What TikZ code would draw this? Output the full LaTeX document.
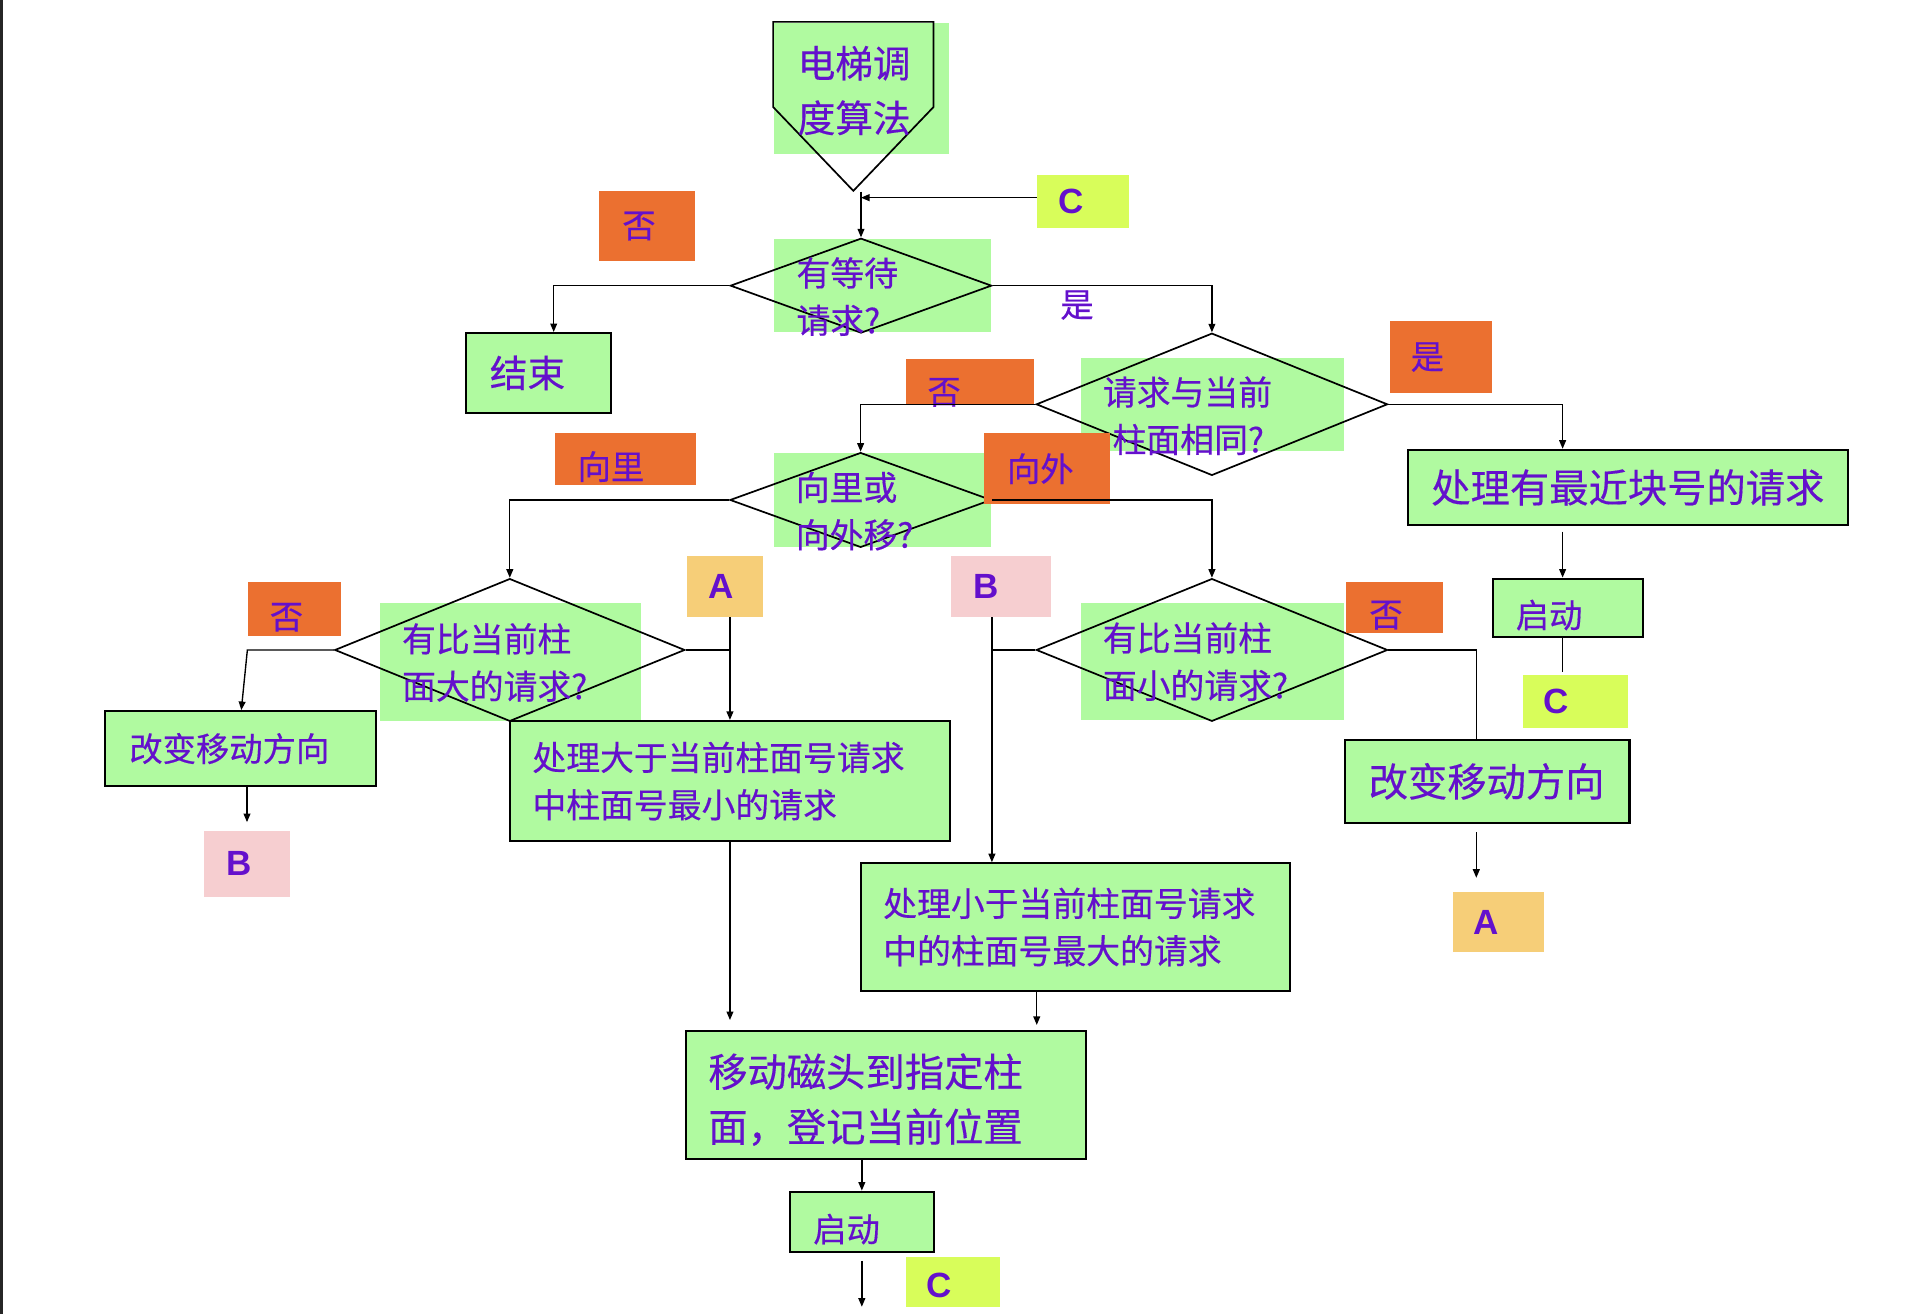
\documentclass[tikz,border=0pt]{standalone}
\usepackage{fontspec}
\setmainfont{Noto Sans CJK SC}[FakeBold=0.4]
\newfontfamily\latinfont{Liberation Sans}
\usepackage{tikz}
\usetikzlibrary{shapes.geometric,arrows.meta,calc}
\definecolor{boxgreen}{RGB}{176,250,160}
\definecolor{txtpurple}{RGB}{100,16,204}
\definecolor{tagorange}{RGB}{235,112,48}
\definecolor{tagyellow}{RGB}{216,253,90}
\definecolor{tagpink}{RGB}{246,206,208}
\definecolor{taggold}{RGB}{246,206,120}
\newcommand{\fsbig}{\fontsize{23pt}{32.2pt}\selectfont}
\newcommand{\fsstart}{\fontsize{22pt}{32pt}\selectfont}
\newcommand{\fsmid}{\fontsize{19.8pt}{27.7pt}\selectfont}
\newcommand{\fstag}{\fontsize{19.5pt}{24pt}\selectfont}
\newcommand{\fsletter}{\latinfont\bfseries\fontsize{20.5pt}{24pt}\selectfont}
\newcommand{\lowered}[2]{\raisebox{-#1}[\height][\depth]{#2}}

\begin{document}
\begin{tikzpicture}[x=0.25mm,y=-0.25mm,text=txtpurple,
  bg/.style={fill=boxgreen,inner sep=0pt},
  flowbox/.style={draw,line width=1.2pt,fill=boxgreen,inner ysep=0pt,align=left},
  tagbox/.style={inner ysep=0pt,align=left,font=\fstag},
  letterbox/.style={inner ysep=0pt,align=left,font=\fsletter},
  decision/.style={diamond,draw,line width=1pt,inner sep=0pt},
  qtext/.style={anchor=west,align=left,inner sep=0pt,font=\fsmid},
  conn/.style={line width=0.8pt,-{Triangle[length=5pt,width=4pt]}},
  plain/.style={line width=0.8pt}]
  \useasboundingbox (0,0) rectangle (1568,1081);
  \draw[line width=1.6pt,black!85] (1,0) -- (1,1081);

  % green text boxes
  \node[bg,minimum width=36mm,minimum height=27mm] (g0) at (709,73) {};
  \node[bg,minimum width=44.5mm,minimum height=19mm] (g1) at (726,235) {};
  \node[bg,minimum width=54mm,minimum height=19.125mm] (g2) at (997.6,332.45) {};
  \node[bg,minimum width=44.65mm,minimum height=19.25mm] (g3) at (726,411.2) {};
  \node[bg,minimum width=53.7mm,minimum height=24.1mm] (g4) at (419.95,544.55) {};
  \node[bg,minimum width=54mm,minimum height=24mm] (g5) at (997.6,544.3) {};

  % start
  \draw[line width=1pt] (636,18) -- (768,18) -- (768,88) -- (702,157) -- (636,88) -- cycle;

  % decisions
  \node[decision,minimum width=53.75mm,minimum height=19.5mm] (d1) at (708.3,235) {};
  \node[decision,minimum width=72.25mm,minimum height=29.25mm] (d2) at (997,332.6) {};
  \node[decision,minimum width=53.75mm,minimum height=19.5mm] (d3) at (708,411.3) {};
  \node[decision,minimum width=72mm,minimum height=29.35mm] (d4) at (419.4,534.7) {};
  \node[decision,minimum width=72.25mm,minimum height=29.35mm] (d5) at (997,534.7) {};

  % answer tags
  \node[tagbox,fill=tagorange,minimum width=19.75mm,minimum height=14.5mm,text width=10.25mm,inner xsep=4.75mm] (no1) at (532.5,186) {否};
  \node[tagbox,fill=tagorange,minimum width=21mm,minimum height=14.9mm,text width=12.5mm,inner xsep=4.25mm] (yes2) at (1185.5,293.8) {是};
  \node[tagbox,fill=tagorange,minimum width=26.5mm,minimum height=9.4mm,text width=17.5mm,inner xsep=4.5mm] (no2) at (798,313.8) {\lowered{2.25mm}{否}};
  \node[tagbox,fill=tagorange,minimum width=28.9mm,minimum height=10.625mm,text width=19.6mm,inner xsep=4.65mm] (in1) at (514.4,377.45) {\lowered{1.6mm}{向里}};
  \node[tagbox,fill=tagorange,minimum width=25.8mm,minimum height=14.675mm,text width=16.5mm,inner xsep=4.65mm] (out1) at (861.4,385.55) {向外};
  \node[tagbox,fill=tagorange,minimum width=19.075mm,minimum height=11.1mm,text width=10.075mm,inner xsep=4.5mm] (no3) at (242.15,501) {\lowered{1.7mm}{否}};
  \node[tagbox,fill=tagorange,minimum width=19.925mm,minimum height=10.425mm,text width=10.175mm,inner xsep=4.875mm] (no4) at (1146.85,499.65) {\lowered{1.6mm}{否}};

  % connector letters
  \node[letterbox,fill=tagyellow,minimum width=19mm,minimum height=10.875mm,text width=10mm,inner xsep=4.5mm] (c1) at (891,165.75) {C};
  \node[letterbox,fill=taggold,minimum width=15.7mm,minimum height=12.475mm,text width=6.9mm,inner xsep=4.4mm] (a1) at (596.6,482.35) {A};
  \node[letterbox,fill=tagpink,minimum width=20.75mm,minimum height=12.575mm,text width=11.5mm,inner xsep=4.625mm] (b1) at (823.5,482.15) {B};
  \node[letterbox,fill=tagyellow,minimum width=21.6mm,minimum height=10.9mm,text width=13.1mm,inner xsep=4.25mm] (c2) at (1295.85,577.15) {C};
  \node[letterbox,fill=tagpink,minimum width=17.7mm,minimum height=13.5mm,text width=8.35mm,inner xsep=4.675mm] (b2) at (203.2,710.6) {B};
  \node[letterbox,fill=taggold,minimum width=18.75mm,minimum height=12.35mm,text width=10.25mm,inner xsep=4.25mm] (a2) at (1232.5,758.7) {A};
  \node[letterbox,fill=tagyellow,minimum width=19.325mm,minimum height=10.175mm,text width=10.825mm,inner xsep=4.25mm] (c3) at (783.95,1054.65) {\lowered{0.8mm}{C}};

  % process boxes
  \node[flowbox,font=\fsstart,minimum width=30mm,minimum height=16.375mm,text width=20mm,inner xsep=5mm] (end) at (443,306.75) {结束};
  \node[flowbox,font=\fsbig,minimum width=90.5mm,minimum height=15.5mm,text width=81mm,inner xsep=4.75mm] (p1) at (1339.5,401) {处理有最近块号的请求};
  \node[flowbox,font=\fstag,minimum width=31mm,minimum height=12mm,text width=21.5mm,inner xsep=4.75mm] (s1) at (1290,500) {\lowered{1.5mm}{启动}};
  \node[flowbox,font=\fstag,minimum width=55.825mm,minimum height=15.4mm,text width=45.625mm,inner xsep=5.1mm] (chg1) at (197.65,615.8) {改变移动方向};
  \node[flowbox,font=\fsmid,minimum width=90.35mm,minimum height=24.725mm,text width=81.25mm,inner xsep=4.55mm] (p2) at (600.5,642.55) {处理大于当前柱面号请求\\中柱面号最小的请求};
  \node[flowbox,font=\fsmid,minimum width=88.2mm,minimum height=26.2mm,text width=79.15mm,inner xsep=4.525mm] (p3) at (884.9,762.6) {处理小于当前柱面号请求\\中的柱面号最大的请求};
  \node[flowbox,font=\fsbig,minimum width=58.525mm,minimum height=17mm,text width=48.725mm,inner xsep=4.9mm] (chg2) at (1223.45,642.8) {改变移动方向};
  \node[flowbox,font=\fsbig,minimum width=82.35mm,minimum height=26.3mm,text width=73mm,inner xsep=4.675mm] (mv) at (728.7,900.6) {\lowered{1mm}{移动磁头到指定柱}\\\lowered{1mm}{面，登记当前位置}};
  \node[flowbox,font=\fstag,minimum width=29.7mm,minimum height=12.425mm,text width=20mm,inner xsep=4.85mm] (s2) at (709,1005.15) {\lowered{1.5mm}{启动}};

  % connectors
  \coordinate (j0) at (708.3,157.7);
  \coordinate (j1) at (708.3,162.6);
  \draw[conn] (c1.west |- j1) -- (j1);
  \draw[conn] (j0) -- (d1.north);
  \coordinate (k1) at (455.5,235);
  \draw[conn] (d1.west) -- (k1) -- (k1 |- end.north);
  \draw[conn] (d1.east) -- (d1.east -| d2.north) -- (d2.north);
  \draw[conn] (d2.west) -- (d2.west -| d3.north) -- (d3.north);
  \coordinate (k2) at (1285.5,332.6);
  \draw[conn] (d2.east) -- (k2) -- (k2 |- p1.north);
  \draw[conn,shorten <=1.1mm] (k2 |- p1.south) -- (k2 |- s1.north);
  \draw[plain] (k2 |- s1.south) -- ([yshift=0.5mm]k2 |- c2.north);
  \draw[conn] (d3.west) -- (d3.west -| d4.north) -- (d4.north);
  \draw[conn] (d3.east) -- (d3.east -| d5.north) -- (d5.north);
  \coordinate (k3) at (203.5,534.7);
  \draw[conn] (d4.west) -- (k3) -- ([xshift=-1.25mm]k3 |- chg1.north);
  \draw[conn,shorten >=1.75mm] (b2.north |- chg1.south) -- (b2.north);
  \draw[plain] (d4.east) -- (d4.east -| p2.north);
  \draw[conn] (a1.south -| p2.north) -- (p2.north);
  \draw[conn,shorten >=2mm] (p2.south) -- (p2.south |- mv.north);
  \coordinate (k4) at (816,534.7);
  \draw[conn] (b1.south -| k4) -- (k4 |- p3.north);
  \draw[plain] (d5.west) -- (k4);
  \draw[conn,shorten >=1mm] ([xshift=-8mm]p3.south) -- ([xshift=-8mm]p3.south |- mv.north);
  \coordinate (k5) at (1214.5,534.7);
  \draw[plain] (d5.east) -- (k5) -- (k5 |- chg2.north);
  \draw[conn,shorten <=1.75mm,shorten >=2.9mm] (k5 |- chg2.south) -- (k5 |- a2.north);
  \draw[conn] (mv.south -| s2.north) -- (s2.north);
  \coordinate (out) at (709,1075);
  \draw[conn,shorten <=1.6mm] (s2.south) -- (out);

  % texts
  \node[qtext,font=\fsstart] (t0) at (656,74.5) {电梯调\\度算法};
  \node[qtext] (t1) at (655,244) {有等待\\请求?};
  \node[qtext] (t2) at (907,342) {请求与当前\\\hspace*{2mm}柱面相同?};
  \node[qtext] (t3) at (654.4,420.5) {向里或\\向外移?};
  \node[qtext] (t4) at (330.5,545) {有比当前柱\\面大的请求?};
  \node[qtext] (t5) at (907,544.3) {有比当前柱\\面小的请求?};
  \node[qtext,font=\fstag] (yes1) at (872,251) {是};
\end{tikzpicture}
\end{document}
